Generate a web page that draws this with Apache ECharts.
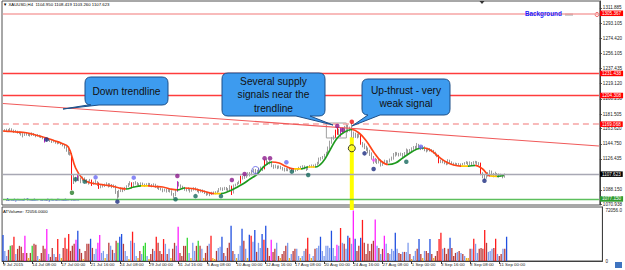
<!DOCTYPE html>
<html>
<head>
<meta charset="utf-8">
<script src="https://cdn.jsdelivr.net/npm/echarts@6.0.0/dist/echarts.min.js"></script>
<style>
html, body { margin: 0; padding: 0; background: #fff; }
#chart { width: 625px; height: 270px; }
</style>
</head>
<body>
<div id="chart"></div>
<script type="text/javascript">

// ---- data ----
var dateLabels = ['9 Jul 2015', '14 Jul 08:00', '17 Jul 00:00', '21 Jul 16:00', '24 Jul 08:00', '29 Jul 00:00',
	'31 Jul 16:00', '5 Aug 08:00', '10 Aug 00:00', '12 Aug 16:00', '17 Aug 08:00', '20 Aug 00:00',
	'24 Aug 16:00', '27 Aug 08:00', '1 Sep 00:00', '3 Sep 16:00', '8 Sep 08:00', '11 Sep 00:00'];
var barsPerLabel = 16;
var totalSlots = 329; // chart shift leaves room on the right

var firstOpen = 1160.0;
var closes = [
	1160.5,1161.2,
	1162.0,1160.8,1163.0,1161.5,1159.8,1160.6,
	1159.0,1158.2,1157.5,1155.0,1157.0,1156.8,
	1156.0,1155.2,1157.5,1156.0,1154.8,1155.4,
	1154.0,1153.5,1151.8,1148.0,1149.2,1150.0,
	1148.6,1147.5,1148.2,1146.5,1145.8,1146.5,
	1145.0,1143.5,1141.0,1137.0,1133.5,1132.0,
	1104.0,1099.5,1101.5,1105.0,1102.0,1100.0,
	1102.5,1100.8,1098.0,1097.2,1099.5,1095.0,
	1096.5,1097.8,1095.0,1091.0,1092.5,1093.0,
	1094.0,1095.8,1093.5,1094.6,1092.0,1093.4,
	1085.0,1080.5,1086.5,1089.0,1087.5,1090.0,
	1092.5,1094.8,1096.5,1091.5,1095.5,1097.0,
	1095.5,1094.0,1096.0,1095.2,1093.6,1094.8,
	1095.8,1094.5,1093.0,1095.0,1092.5,1091.4,
	1090.0,1089.2,1087.5,1088.6,1086.8,1088.0,
	1086.5,1083.0,1081.5,1087.0,1096.5,1094.0,
	1092.0,1090.6,1089.0,1088.5,1089.6,1087.0,
	1088.4,1090.0,1089.2,1087.5,1086.0,1087.2,
	1086.5,1085.0,1083.2,1084.0,1082.5,1084.0,
	1085.2,1084.0,1086.0,1088.4,1090.0,1089.0,
	1090.5,1089.0,1088.0,1092.5,1084.5,1093.5,
	1094.5,1096.0,1098.0,1104.0,1103.0,1104.5,
	1106.0,1108.5,1107.0,1110.5,1112.5,1108.5,
	1111.0,1113.5,1115.2,1114.0,1123.5,1122.0,
	1120.5,1122.5,1118.0,1116.0,1117.4,1115.5,
	1117.0,1115.5,1114.0,1112.5,1113.6,1113.0,
	1114.5,1113.0,1111.5,1112.4,1113.2,1115.0,
	1116.2,1117.0,1115.5,1114.0,1116.0,1117.2,
	1118.0,1117.2,1118.8,1121.0,1125.0,1127.0,
	1128.5,1131.0,1133.5,1139.0,1146.5,1151.0,
	1153.0,1160.5,1162.0,1158.5,1163.0,1160.0,
	1164.5,1166.5,1162.0,1163.8,1156.5,1157.5,
	1155.0,1153.8,1156.0,1145.0,1143.5,1141.0,
	1138.5,1136.0,1132.5,1128.0,1123.5,1125.0,
	1122.0,1124.5,1119.5,1121.0,1123.6,1122.0,
	1123.0,1124.8,1127.5,1130.0,1133.5,1132.5,
	1131.0,1132.6,1130.4,1133.0,1136.0,1134.8,
	1137.0,1138.5,1140.0,1139.2,1142.5,1141.0,
	1139.5,1140.5,1138.0,1136.8,1138.0,1137.5,
	1136.0,1134.5,1132.0,1130.8,1122.5,1124.0,
	1122.8,1121.5,1120.4,1123.5,1121.8,1121.0,
	1119.8,1120.6,1119.2,1120.0,1119.0,1120.2,
	1121.0,1122.2,1119.5,1121.8,1120.0,1121.5,
	1122.4,1121.0,1120.2,1108.0,1104.0,1102.8,
	1105.5,1108.0,1110.0,1107.5,1106.0,1108.5,
	1107.0,1105.8,1106.4,1104.95,1107.623
];
var highs = [
	1162.5,1163.0,
	1163.5,1163.0,1164.5,1164.0,1162.4,1162.0,
	1161.0,1160.0,1159.5,1158.0,1158.5,1158.2,
	1157.8,1157.0,1159.0,1158.2,1156.6,1157.0,
	1156.0,1155.0,1154.2,1152.0,1150.8,1151.2,
	1150.5,1149.3,1149.8,1148.8,1147.6,1148.0,
	1147.2,1145.8,1144.2,1141.8,1138.4,1135.0,
	1133.6,1106.5,1104.5,1108.0,1106.2,1103.5,
	1104.8,1103.6,1101.5,1099.6,1101.8,1101.0,
	1098.5,1100.8,1099.0,1097.4,1094.6,1095.2,
	1096.0,1097.6,1096.6,1096.4,1095.5,1095.0,
	1094.0,1087.0,1088.4,1091.2,1090.8,1092.0,
	1094.0,1096.6,1099.0,1097.6,1098.0,1099.0,
	1097.8,1096.4,1097.6,1097.3,1096.0,1096.5,
	1097.0,1096.8,1095.6,1096.4,1095.8,1093.7,
	1092.6,1091.0,1090.2,1090.0,1089.4,1089.6,
	1089.2,1087.8,1084.5,1088.4,1099.0,1098.2,
	1095.0,1093.4,1092.0,1090.8,1091.5,1090.4,
	1089.8,1091.6,1091.4,1090.0,1088.6,1089.0,
	1088.8,1087.6,1086.2,1086.0,1085.2,1086.0,
	1086.4,1086.6,1087.6,1090.5,1091.6,1091.2,
	1092.0,1091.8,1090.4,1094.2,1093.5,1095.0,
	1096.0,1097.8,1099.6,1105.8,1105.5,1106.2,
	1108.0,1110.0,1110.2,1112.6,1114.5,1114.0,
	1113.0,1115.8,1117.0,1116.8,1125.5,1126.2,
	1123.6,1124.5,1123.0,1119.4,1119.4,1118.2,
	1118.4,1118.0,1116.4,1115.6,1115.4,1114.8,
	1115.8,1115.4,1113.8,1114.0,1115.0,1116.6,
	1117.8,1118.6,1118.4,1116.8,1117.8,1119.0,
	1119.6,1119.4,1120.5,1122.8,1128.0,1128.8,
	1130.0,1132.6,1135.2,1141.6,1148.8,1153.4,
	1155.2,1162.4,1165.4,1163.4,1164.8,1164.6,
	1167.0,1168.8,1168.6,1166.0,1170.5,1160.0,
	1158.6,1157.4,1158.4,1157.0,1147.2,1145.4,
	1142.5,1140.4,1137.6,1134.4,1130.0,1127.6,
	1126.4,1126.4,1125.6,1123.2,1125.4,1124.8,
	1124.6,1126.8,1129.2,1133.6,1135.0,1134.6,
	1133.8,1134.2,1133.6,1134.8,1139.2,1138.0,
	1138.6,1140.6,1142.2,1142.4,1146.0,1144.8,
	1142.2,1142.6,1141.8,1139.4,1139.8,1139.6,
	1138.4,1137.4,1135.2,1133.0,1131.4,1125.6,
	1125.2,1124.4,1123.2,1126.0,1125.4,1123.4,
	1121.8,1121.8,1121.2,1121.4,1120.8,1121.4,
	1122.4,1123.6,1123.0,1123.4,1122.6,1123.6,
	1124.0,1123.6,1122.4,1121.8,1110.0,1106.6,
	1107.4,1110.2,1112.8,1112.0,1109.2,1110.6,
	1109.0,1108.4,1108.2,1107.6,1108.419
];
var lows = [
	1158.8,1159.6,
	1160.2,1159.5,1160.0,1160.2,1158.3,1159.0,
	1157.5,1156.8,1155.0,1152.8,1154.6,1155.0,
	1154.6,1153.8,1154.5,1154.7,1153.0,1153.9,
	1152.6,1152.0,1150.5,1146.5,1147.4,1148.5,
	1147.2,1146.0,1146.5,1145.0,1144.3,1144.8,
	1143.6,1141.8,1139.0,1135.2,1131.5,1130.5,
	1088.0,1095.5,1097.5,1099.5,1099.0,1096.5,
	1099.2,1098.6,1096.0,1094.8,1096.5,1093.2,
	1094.5,1095.6,1093.0,1089.5,1090.3,1091.2,
	1091.8,1093.0,1091.2,1092.0,1090.4,1090.8,
	1083.4,1077.5,1079.0,1085.6,1085.5,1086.8,
	1089.5,1091.7,1093.8,1090.2,1091.0,1094.8,
	1093.8,1092.5,1093.2,1093.5,1092.0,1092.9,
	1093.6,1093.0,1091.5,1092.2,1090.9,1089.5,
	1088.2,1087.6,1085.4,1086.2,1085.0,1085.8,
	1085.0,1081.2,1078.5,1080.5,1086.0,1092.4,
	1090.2,1088.8,1087.2,1086.4,1087.4,1085.0,
	1086.0,1087.4,1087.5,1085.5,1084.0,1085.1,
	1084.6,1083.2,1081.0,1081.8,1080.6,1081.9,
	1083.2,1082.8,1083.4,1085.4,1087.6,1087.0,
	1088.0,1087.5,1086.2,1087.0,1082.0,1083.8,
	1092.5,1093.8,1095.4,1096.0,1101.0,1101.8,
	1103.0,1105.0,1104.8,1106.2,1109.5,1106.5,
	1107.6,1110.4,1112.6,1111.4,1113.5,1119.8,
	1118.8,1119.5,1116.2,1114.2,1114.8,1113.8,
	1114.5,1113.6,1112.0,1110.8,1111.3,1111.2,
	1112.4,1111.2,1110.2,1110.6,1111.5,1112.8,
	1114.2,1115.0,1113.6,1111.6,1112.8,1115.4,
	1116.0,1115.8,1116.4,1118.2,1119.8,1124.2,
	1126.0,1127.8,1130.4,1133.0,1138.2,1145.0,
	1149.8,1152.4,1156.0,1155.6,1153.6,1157.0,
	1159.4,1162.4,1159.0,1160.0,1152.8,1152.0,
	1152.2,1151.6,1152.6,1143.8,1140.6,1138.4,
	1136.2,1133.2,1130.0,1125.4,1120.4,1121.6,
	1120.0,1120.8,1117.0,1117.8,1120.2,1119.6,
	1120.6,1122.0,1124.2,1125.4,1129.2,1130.6,
	1129.4,1130.2,1128.6,1129.6,1131.8,1132.2,
	1134.0,1136.0,1137.6,1136.8,1138.6,1138.6,
	1137.2,1137.6,1135.8,1134.4,1135.6,1135.4,
	1134.6,1132.8,1130.2,1128.4,1121.0,1121.2,
	1121.0,1119.8,1118.6,1119.4,1120.2,1119.6,
	1118.4,1118.8,1117.8,1118.2,1117.8,1118.4,
	1119.2,1120.0,1118.6,1118.8,1118.6,1119.4,
	1120.6,1119.2,1118.6,1106.4,1102.5,1100.6,
	1102.0,1104.6,1106.8,1105.4,1103.8,1104.6,
	1105.2,1103.4,1104.2,1102.5,1103.26
];
var volumes = [
	37000,14400,7200,15900,21600,22600,34600,10100,17300,21600,20200,11500,36000,11500,4300,11500,
	21600,24500,23100,7200,2900,11500,21600,17300,45700,10100,5800,18700,10100,5800,31300,10100,
	4300,18700,33100,17300,38500,14400,21600,24500,30300,43200,17300,11500,2900,14400,24500,24500,
	31700,18700,10100,17300,25900,37000,11500,14400,4300,10100,25900,21600,15900,11500,28800,25900,
	34600,38500,24500,14400,7200,2900,28800,41800,25900,7200,4300,14400,10100,21600,25900,7200,
	2900,10100,17300,14400,34600,25900,14400,10100,31300,24500,10100,17300,4300,17300,25900,21600,
	49000,11500,7200,21600,21600,33100,11500,4300,25900,14400,21600,28800,21600,17300,4300,11500,
	21600,24500,36000,4300,2900,14400,18700,20200,34600,11500,7200,18700,25900,50400,14400,10100,
	4300,10100,21600,46100,28800,17300,4300,37500,36000,27400,44200,13000,25900,18700,38500,30300,
	50400,18700,7200,30300,13000,17300,25900,7200,4300,10100,14400,21600,25900,4300,10100,14400,
	17300,17300,7200,4300,7200,14400,17300,33100,10100,4300,7200,17300,18700,21600,34600,14400,
	7200,21600,21600,18700,43200,18700,7200,23100,21600,47100,25900,24500,17300,36000,33100,24500,
	72056,31700,14400,21600,33100,58600,25900,10100,24500,14400,24500,28800,59100,21600,18700,10100,
	17300,36000,24500,11500,10100,17300,14400,40300,17300,11500,10100,13000,13000,13000,25900,10100,
	2900,7200,14400,17300,31300,10100,4300,14400,14400,11500,31300,10100,4300,7200,14400,31300,
	40300,17300,18700,10100,17300,33100,18700,7200,11500,13000,14400,11500,10100,7200,4300,4300,
	17300,17300,31700,24500,11500,17300,18700,17300,44200,25900,13000,14400,17300,18700,31700,10100,
	7200,10100,17300,17300,34600
];

// right price scale, as printed
var priceTicks = [1311.885, 1293.105, 1274.420, 1256.105, 1237.435, 1219.120, 1200.250, 1181.505,
	1163.620, 1144.750, 1126.435, 1088.150, 1070.938];
var priceMin = 1069.71;
var priceMax = 1320.49;
var volumeTicks = [0, 72056];
var volumeMax = 77000;

// smoothed trend line (sampled every 4 bars)
var maPoints = [[0,1160.7],[4,1160.1],[8,1159.4],[12,1158.8],[16,1157.0],[20,1154.5],[24,1152.1],[28,1149.0],
	[32,1145.9],[36,1141.0],[40,1115.2],[44,1101.7],[48,1097.0],[52,1095.5],[56,1094.3],[60,1093.1],
	[64,1090.6],[68,1089.4],[72,1091.8],[76,1093.1],[80,1093.1],[84,1092.4],[88,1091.8],[92,1089.4],
	[96,1088.2],[100,1090.6],[104,1090.0],[108,1088.2],[112,1085.7],[116,1083.8],[120,1083.8],[124,1086.3],
	[128,1090.6],[132,1095.5],[136,1101.7],[140,1107.8],[144,1117.7],[148,1122.6],[152,1121.3],[156,1117.0],
	[160,1114.0],[164,1114.0],[168,1116.4],[172,1116.4],[176,1122.6],[180,1137.3],[184,1152.1],[188,1159.4],
	[192,1162.5],[196,1158.2],[200,1148.4],[204,1134.9],[208,1123.8],[212,1119.5],[216,1121.3],[220,1127.5],
	[224,1133.6],[228,1138.6],[232,1139.8],[236,1136.1],[240,1128.7],[244,1122.6],[248,1118.9],[252,1117.6],
	[256,1117.6],[260,1118.3],[264,1114.0],[268,1105.4],[272,1105.0],[276,1106.0]];

// horizontal levels and the down trendline
var resistanceLevels = [['1305.367', 1305.367], ['1231.438', 1231.438], ['1204.308', 1204.308]];
var pullbackLevel = 1169.068;
var lastPrice = 1107.623;
var supportLevel = 1077.150;
var trendline = [[0, 1194.5], [328, 1142.2]];

// signal bars
var redCandles = [38, 49, 53, 71, 126, 131, 144, 183, 184, 197, 240, 263];
var purpleCandles = [23, 41, 96, 186];
var climaxBars = [12, 24, 40, 52, 53, 96, 147, 183, 192, 204, 209];
var testBars = [4, 16, 63, 77, 78, 101, 107];

// signal dots [bar, price]
var tealDots = [[40,1101.3],[45,1098.4],[95,1076.7],[106,1080.6],[120,1080.6],[159,1110.7],[168,1106.6],[222,1122.9]];
var navyDots = [[24,1150.2],[63,1073.8],[199,1133.2],[204,1114.0],[265,1099.6]];
var blueDots = [[51,1103.7],[72,1103.3],[156,1122.2],[230,1141.4]];
var purpleDots = [[96,1105.4],[126,1100.4],[133,1107.8],[144,1127.1],[147,1127.1],[184,1166.8],[187,1161.9]];
var greenDots = [[38,1084.8]];
var redDots = [[192,1172.1]];
var magentaDots = [[204,1125.0]];
var openCircles = [[139,1112.7]];
var upthrustMark = [[192,1139.4]];
var upthrustColumn = [[192,1153.0]];
var supplyBox = [[178,1170.5],[189,1152.1]];

// annotation callouts: box x0,y0,x1,y1, tail base bx1,bx2, tail tip tx,ty (pixels)
var callouts = [
	{ text: 'Down trendline', box: [85, 77, 168, 105], tail: [88, 99, 63, 109] },
	{ text: 'Several supply\nsignals near the\ntrendline', box: [222, 73, 325, 116], tail: [296, 310, 333, 125] },
	{ text: 'Up-thrust - very\nweak signal', box: [362, 79, 450, 115], tail: [368, 380, 352, 126] }
];

// ---- build ----
var cats = [];
for (var s = 0; s < totalSlots; s++) cats.push(String(s));

function openOf(i) { return i === 0 ? firstOpen : closes[i - 1]; }

var candleData = closes.map(function (c, i) {
	var item = { value: [openOf(i), c, lows[i], highs[i]] };
	var col = null;
	if (redCandles.indexOf(i) >= 0) col = '#ff1010';
	else if (purpleCandles.indexOf(i) >= 0) col = '#c020c0';
	if (col) item.itemStyle = { color: col, color0: col, borderColor: col, borderColor0: col };
	return item;
});

function volumeColor(i) {
	if (climaxBars.indexOf(i) >= 0) return '#ff20ff';
	if (testBars.indexOf(i) >= 0) return '#30d830';
	if (volumes[i] < 5000) return '#f0b020';
	if (closes[i] < openOf(i)) return volumes[i] >= 30000 ? '#ff1c1c' : '#b83a3a';
	return volumes[i] >= 30000 ? '#2150e0' : '#7e9bee';
}
var volumeData = volumes.map(function (v, i) {
	return { value: v, itemStyle: { color: volumeColor(i) } };
});

// colour the trend line by its direction
var maPieces = [];
for (var k = 0; k < maPoints.length - 1; k++) {
	var d = maPoints[k + 1][1] - maPoints[k][1];
	var col = d > 0.5 ? '#1e9a1e' : (d < -0.5 ? '#ff4418' : '#ffc800');
	var piece = { gte: maPoints[k][0], color: col };
	if (k < maPoints.length - 2) piece.lt = maPoints[k + 1][0]; else piece.lte = maPoints[k + 1][0];
	maPieces.push(piece);
}

function showLabel(i) { return i % barsPerLabel === 0 && i / barsPerLabel < dateLabels.length; }

// each level line is drawn as a start/end pair so its own line style is kept
function levelLine(value, text, lineColor, boxColor, width, type) {
	return [
		{ xAxis: 0, yAxis: value, lineStyle: { color: lineColor, width: width, type: type || 'solid' },
			label: { show: true, position: 'end', formatter: text, backgroundColor: boxColor, color: '#fff',
				fontSize: 4.6, padding: [0.5, 2, 0, 2], distance: 1 } },
		{ xAxis: totalSlots - 1, yAxis: value }
	];
}

var levelLines = resistanceLevels.map(function (r, i) {
	return i === 0 ? levelLine(r[1], r[0], '#f6a4a4', '#ff0000', 1.6) : levelLine(r[1], r[0], '#ff3c3c', '#ff0000', 1.3);
});
levelLines.push(levelLine(pullbackLevel, pullbackLevel.toFixed(3), '#f6a4a4', '#ff0000', 1.6, [6, 4]));
levelLines.push(levelLine(lastPrice, lastPrice.toFixed(3), '#a8a8b4', '#000000', 1.3));
levelLines.push(levelLine(supportLevel, supportLevel.toFixed(3), '#5cbf5c', '#2e9b2e', 1.3));
levelLines.push([
	{ coord: trendline[0], lineStyle: { color: '#f05a5a', width: 1.1, type: 'solid' }, label: { show: false } },
	{ coord: trendline[1] }
]);

function dotSeries(name, data, color, size) {
	return {
		name: name, type: 'scatter', xAxisIndex: 0, yAxisIndex: 0, data: data,
		symbol: 'circle', symbolSize: size || 4.5, itemStyle: { color: color }, z: 5
	};
}

function calloutPath(b, t, r) {
	var x0 = b[0], y0 = b[1], x1 = b[2], y1 = b[3];
	return 'M' + (x0 + r) + ',' + y0 + ' H' + (x1 - r) + ' Q' + x1 + ',' + y0 + ' ' + x1 + ',' + (y0 + r) +
		' V' + (y1 - r) + ' Q' + x1 + ',' + y1 + ' ' + (x1 - r) + ',' + y1 +
		' H' + t[1] + ' L' + t[2] + ',' + t[3] + ' L' + t[0] + ',' + y1 +
		' H' + (x0 + r) + ' Q' + x0 + ',' + y1 + ' ' + x0 + ',' + (y1 - r) +
		' V' + (y0 + r) + ' Q' + x0 + ',' + y0 + ' ' + (x0 + r) + ',' + y0 + ' Z';
}

var chart = echarts.init(document.getElementById('chart'), null, { renderer: 'svg' });

var option = {
	animation: false,
	backgroundColor: '#ffffff',
	textStyle: { fontFamily: 'Liberation Sans' },
	grid: [
		{ left: 2, right: 22, top: 1, height: 204, show: true, borderColor: '#505050', borderWidth: 1 },
		{ left: 2, right: 22, top: 207, height: 54, show: true, borderColor: '#505050', borderWidth: 1 }
	],
	visualMap: [{
		type: 'piecewise', show: false, dimension: 0, seriesIndex: 1, pieces: maPieces
	}],
	xAxis: [
		{ type: 'category', gridIndex: 0, data: cats, boundaryGap: true,
			axisLine: { show: false }, axisTick: { show: false }, axisLabel: { show: false }, splitLine: { show: false } },
		{ type: 'category', gridIndex: 1, data: cats, boundaryGap: true,
			axisLine: { show: true, lineStyle: { color: '#404040' } },
			axisTick: { show: true, interval: showLabel, alignWithLabel: true, length: 3, lineStyle: { color: '#404040' } },
			axisLabel: { interval: showLabel, formatter: function (v, i) { return dateLabels[i / barsPerLabel] || ''; },
				align: 'left', fontSize: 4.4, color: '#222', margin: 1 },
			splitLine: { show: false } }
	],
	yAxis: [
		{ type: 'value', gridIndex: 0, position: 'right', min: priceMin, max: priceMax,
			axisLine: { show: true, lineStyle: { color: '#404040' } },
			axisTick: { show: true, length: 2, customValues: priceTicks, lineStyle: { color: '#404040' } },
			axisLabel: { customValues: priceTicks, formatter: function (v) { return v.toFixed(3); },
				fontSize: 4.6, color: '#222', margin: 3 },
			splitLine: { show: false } },
		{ type: 'value', gridIndex: 1, position: 'right', min: 0, max: volumeMax,
			axisLine: { show: true, lineStyle: { color: '#404040' } },
			axisTick: { show: false },
			axisLabel: { customValues: volumeTicks, formatter: function (v) { return v === 0 ? '0' : v.toFixed(1); },
				fontSize: 4.6, color: '#222', margin: 3 },
			splitLine: { show: false } }
	],
	series: [
		{
			name: 'XAUUSD,H4', type: 'candlestick', xAxisIndex: 0, yAxisIndex: 0, data: candleData,
			barWidth: 1.2, z: 3,
			itemStyle: { color: '#b4b4b4', color0: '#a4a4a4', borderColor: '#a0a0a0', borderColor0: '#989898', borderWidth: 1 },
			markLine: { silent: true, symbol: ['none', 'none'], data: levelLines },
			markArea: { silent: true, itemStyle: { color: 'rgba(0,0,0,0)', borderColor: '#a0a0a0', borderWidth: 1 },
				data: [[{ coord: supplyBox[0] }, { coord: supplyBox[1] }]] }
		},
		{
			name: 'trend', type: 'line', xAxisIndex: 0, yAxisIndex: 0, data: maPoints,
			smooth: 0.4, symbol: 'none', lineStyle: { width: 1.7 }, z: 4
		},
		{
			name: 'upthrust', type: 'custom', xAxisIndex: 0, yAxisIndex: 0, data: upthrustColumn, z: 2, clip: false,
			renderItem: function (params, api) {
				var top = api.coord([api.value(0), api.value(1)]);
				var w = api.size([1, 0])[0] * 2.2;
				var bottom = params.coordSys.y + params.coordSys.height + 5;
				return { type: 'rect', shape: { x: top[0] - w / 2, y: top[1], width: w, height: bottom - top[1] },
					style: { fill: '#ffff00' } };
			}
		},
		dotSeries('teal', tealDots, '#17695e'),
		dotSeries('navy', navyDots, '#1c2c80'),
		dotSeries('blue', blueDots, '#6a6af2'),
		dotSeries('purple', purpleDots, '#8c1a8c'),
		dotSeries('green', greenDots, '#2a7d2a'),
		dotSeries('red', redDots, '#ee1111'),
		dotSeries('magenta', magentaDots, '#ff50ff', 3.5),
		{
			name: 'circle', type: 'scatter', xAxisIndex: 0, yAxisIndex: 0, data: openCircles, symbolSize: 7, z: 6,
			itemStyle: { color: 'rgba(0,0,0,0)', borderColor: '#5a5ae8', borderWidth: 1 }
		},
		{
			name: 'upthrust mark', type: 'scatter', xAxisIndex: 0, yAxisIndex: 0, data: upthrustMark, symbolSize: 7, z: 6,
			itemStyle: { color: '#ffff30', borderColor: '#111', borderWidth: 1 }
		},
		{
			name: 'ATVolume', type: 'bar', xAxisIndex: 1, yAxisIndex: 1, data: volumeData, barWidth: 1.3
		},
		{
			name: 'callouts', type: 'custom', coordinateSystem: 'none', data: callouts.map(function (c, i) { return i; }),
			z: 20, silent: true,
			renderItem: function (params) {
				var c = callouts[params.dataIndex];
				var b = c.box;
				return {
					type: 'group',
					children: [
						{ type: 'path', shape: { pathData: calloutPath(b, c.tail, 6) },
							style: { fill: '#3d9bef', stroke: '#1d4f88', lineWidth: 1 } },
						{ type: 'text', x: (b[0] + b[2]) / 2, y: (b[1] + b[3]) / 2,
							style: { text: c.text, fill: '#111', fontSize: 10.2, fontFamily: 'Liberation Sans',
								align: 'center', verticalAlign: 'middle', lineHeight: 13.5 } }
					]
				};
			}
		}
	],
	graphic: [
		{ type: 'text', left: 3, top: 2, style: { text: '\u25BC XAUUSD,H4  1104.950 1108.419 1103.260 1107.623', fontSize: 4.3, fill: '#000' } },
		{ type: 'polygon', shape: { points: [[479.5, 1], [484.5, 1], [482, 4]] }, style: { fill: '#333' } },
		{ type: 'text', left: 525, top: 10.5, z: 10, style: { text: 'Background', fontSize: 6.3, fontWeight: 'bold', fill: '#1a1aff' } },
		{ type: 'rect', shape: { x: 565, y: 13.5, width: 8, height: 2 }, style: { fill: '#a0a0a0' } },
		{ type: 'circle', shape: { cx: 597, cy: 14.5, r: 2 }, style: { fill: 'none', stroke: '#ee3333', lineWidth: 0.8 } },
		{ type: 'text', left: 6, top: 197.5, style: { text: 'Analytical Trader analyticaltrader.com', fontSize: 4.4, fill: '#1a1acc' } },
		{ type: 'text', left: 3, top: 209.5, style: { text: 'ATVolume: 72056.0000', fontSize: 4.3, fill: '#000' } },
		{ type: 'rect', shape: { x: 615, y: 262, width: 7, height: 6 }, style: { fill: '#3f74c0' } }
	]
};

chart.setOption(option);
</script>
</body>
</html>
